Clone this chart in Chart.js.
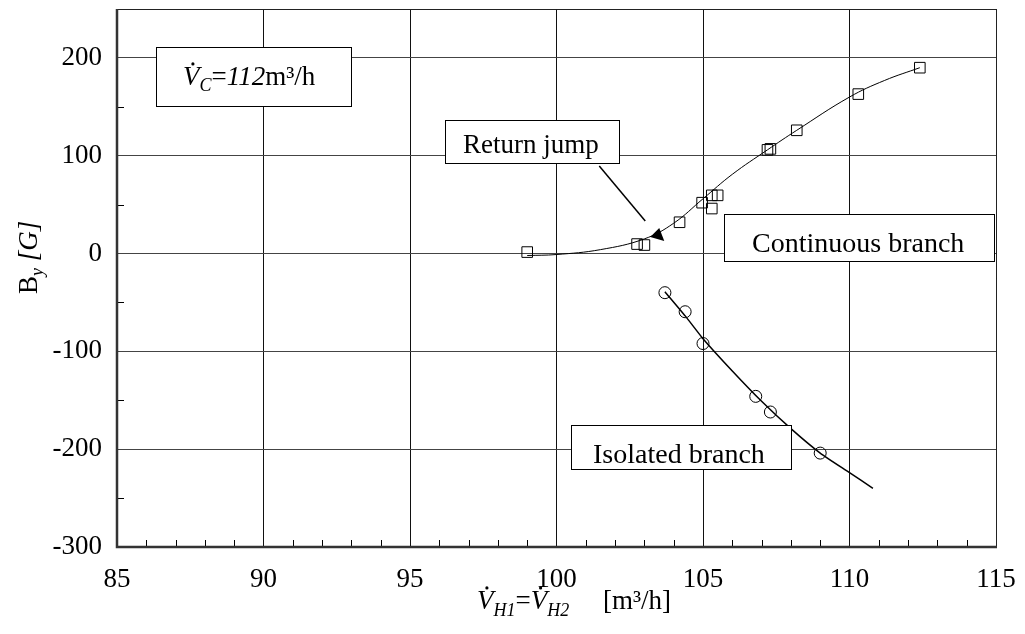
<!DOCTYPE html>
<html>
<head>
<meta charset="utf-8">
<script src="https://cdn.jsdelivr.net/npm/chart.js@4.4.0/dist/chart.umd.min.js"></script>
<style>
  html, body { margin: 0; padding: 0; background: #fff; }
</style>
</head>
<body>
<canvas id="chart" width="1025" height="634"></canvas>
<script>
// Measured points, continuous branch (squares)
const contX = [99.0, 102.75, 103.0, 104.2, 104.97, 105.3, 105.3, 105.5, 107.2, 107.3, 108.2, 110.3, 112.4];
const contY = [1.5, 9.7, 8.7, 32, 52, 59.5, 46, 59.5, 106, 107, 126, 163, 190];

// Measured points, isolated branch (circles)
const isoX = [103.7, 104.39, 105.0, 106.8, 107.3, 109.0];
const isoY = [-40, -59.5, -92, -146, -162, -204];

// Fitted curves
const contFitX = [99, 100, 101.5, 103, 104, 105, 106, 107.2, 108.2, 110, 111.2, 112.4];
const contFitY = [-2, -1, 4, 15, 31, 56, 81, 106, 126, 160, 177, 190];
const isoFitX = [103.7, 104.4, 105, 106, 107, 108, 109, 110, 110.8];
const isoFitY = [-39, -64, -87, -120, -151, -179, -204, -224, -240];

// Axis ticks
const xTicks = [85, 90, 95, 100, 105, 110, 115];
const yTicks = [-300, -200, -100, 0, 100, 200];

const SERIF = "'Liberation Serif', 'Times New Roman', serif";

function pts(xs, ys) {
    return xs.map(function (x, i) { return { x: x, y: ys[i] }; });
}

// Draw a run of text pieces with mixed styles
function drawRuns(ctx, x, y, runs) {
    let cx = x;
    runs.forEach(function (r) {
        ctx.font = (r.italic ? 'italic ' : '') + r.size + 'px ' + SERIF;
        const start = cx;
        ctx.fillText(r.t, cx, y + (r.dy || 0));
        const w = ctx.measureText(r.t).width;
        if (r.dot) {
            ctx.beginPath();
            ctx.arc(start + w * 0.6, y - r.size * 0.78, 1.6, 0, Math.PI * 2);
            ctx.fill();
        }
        cx += w;
    });
    return cx - x;
}

function labelBox(ctx, x1, y1, x2, y2) {
    ctx.fillStyle = '#fff';
    ctx.fillRect(x1, y1, x2 - x1, y2 - y1);
    ctx.strokeStyle = '#000';
    ctx.lineWidth = 1;
    ctx.strokeRect(x1 + 0.5, y1 + 0.5, x2 - x1, y2 - y1);
    ctx.fillStyle = '#000';
}

// no automatic label padding, the plot area is set by the layout padding
function noPad(s) {
    s.paddingTop = 0;
    s.paddingBottom = 0;
    s.paddingLeft = 0;
    s.paddingRight = 0;
}

const decor = {
    id: 'decor',
    beforeDatasetsDraw: function (chart) {
        const ctx = chart.ctx;
        const a = chart.chartArea;
        const xs = chart.scales.x;
        const ys = chart.scales.y;
        ctx.save();
        // minor ticks on x
        ctx.strokeStyle = '#000';
        ctx.lineWidth = 1;
        for (let v = 86; v < 115; v++) {
            if (v % 5 === 0) continue;
            const px = Math.round(xs.getPixelForValue(v)) + 0.5;
            ctx.beginPath();
            ctx.moveTo(px, a.bottom);
            ctx.lineTo(px, a.bottom - 7);
            ctx.stroke();
        }
        // minor ticks on y
        for (let v = -250; v < 250; v += 100) {
            const py = Math.round(ys.getPixelForValue(v)) + 0.5;
            ctx.beginPath();
            ctx.moveTo(a.left, py);
            ctx.lineTo(a.left + 7, py);
            ctx.stroke();
        }
        // frame
        ctx.strokeStyle = '#222';
        ctx.lineWidth = 1;
        ctx.beginPath();
        ctx.moveTo(a.left, a.top + 0.5);
        ctx.lineTo(a.right + 0.5, a.top + 0.5);
        ctx.lineTo(a.right + 0.5, a.bottom);
        ctx.stroke();
        ctx.strokeStyle = '#333';
        ctx.lineWidth = 2.5;
        ctx.beginPath();
        ctx.moveTo(a.left, a.top);
        ctx.lineTo(a.left, a.bottom);
        ctx.lineTo(a.right + 1, a.bottom);
        ctx.stroke();
        ctx.restore();
    },
    afterDatasetsDraw: function (chart) {
        const ctx = chart.ctx;
        const xs = chart.scales.x;
        const ys = chart.scales.y;
        ctx.save();
        ctx.textBaseline = 'alphabetic';
        ctx.textAlign = 'left';

        // flow rate box
        labelBox(ctx, 156, 47, 351, 106);
        drawRuns(ctx, 183, 85, [
            { t: 'V', italic: true, size: 27, dot: true },
            { t: 'C', italic: true, size: 18, dy: 6 },
            { t: '=', size: 27 },
            { t: '112', italic: true, size: 27 },
            { t: 'm³/h', size: 27 }
        ]);

        // return jump
        labelBox(ctx, 445, 120, 619, 163);
        ctx.font = '27px ' + SERIF;
        ctx.fillText('Return jump', 463, 153);
        const tx = xs.getPixelForValue(103.2);
        const ty = ys.getPixelForValue(17);
        ctx.strokeStyle = '#000';
        ctx.lineWidth = 1.5;
        ctx.beginPath();
        ctx.moveTo(tx - 51, ty - 71);
        ctx.lineTo(tx - 5, ty - 16);
        ctx.stroke();
        ctx.beginPath();
        ctx.moveTo(tx, ty);
        ctx.lineTo(tx + 9, ty - 9);
        ctx.lineTo(tx + 14, ty + 4);
        ctx.closePath();
        ctx.fill();

        // branch labels
        labelBox(ctx, 724, 214, 994, 261);
        ctx.font = '28px ' + SERIF;
        ctx.fillText('Continuous branch', 752, 252);

        labelBox(ctx, 571, 425, 791, 469);
        ctx.font = '28px ' + SERIF;
        ctx.fillText('Isolated branch', 593, 463);

        // x axis title
        drawRuns(ctx, 477, 609, [
            { t: 'V', italic: true, size: 27, dot: true },
            { t: 'H1', italic: true, size: 18, dy: 7 },
            { t: '=', size: 27 },
            { t: 'V', italic: true, size: 27, dot: true },
            { t: 'H2', italic: true, size: 18, dy: 7 },
            { t: '     [m³/h]', size: 27 }
        ]);

        // y axis title
        ctx.translate(37, 294);
        ctx.rotate(-Math.PI / 2);
        drawRuns(ctx, 0, 0, [
            { t: 'B', size: 27 },
            { t: 'y', italic: true, size: 18, dy: 6 },
            { t: ' [G]', italic: true, size: 27 }
        ]);
        ctx.restore();
    }
};

const ctx = document.getElementById('chart').getContext('2d');
new Chart(ctx, {
    type: 'scatter',
    data: {
        datasets: [{
            label: 'Continuous fit',
            data: pts(contFitX, contFitY),
            showLine: true,
            pointRadius: 0,
            borderColor: '#000',
            borderWidth: 1,
            tension: 0.4
        }, {
            label: 'Isolated fit',
            data: pts(isoFitX, isoFitY),
            showLine: true,
            pointRadius: 0,
            borderColor: '#000',
            borderWidth: 1.5,
            tension: 0.2
        }, {
            label: 'Continuous branch',
            data: pts(contX, contY),
            pointStyle: 'rect',
            pointRadius: 7.5,
            borderColor: '#000',
            borderWidth: 1,
            backgroundColor: 'rgba(0,0,0,0)'
        }, {
            label: 'Isolated branch',
            data: pts(isoX, isoY),
            pointStyle: 'circle',
            pointRadius: 6,
            borderColor: '#000',
            borderWidth: 1,
            backgroundColor: 'rgba(0,0,0,0)'
        }]
    },
    options: {
        responsive: false,
        animation: false,
        devicePixelRatio: 1,
        layout: { padding: { top: 9, right: 29, left: 0, bottom: 0 } },
        plugins: {
            legend: { display: false },
            tooltip: { enabled: false }
        },
        scales: {
            x: {
                type: 'linear',
                min: 85,
                max: 115,
                afterBuildTicks: function (s) { s.ticks = xTicks.map(function (v) { return { value: v }; }); },
                afterFit: function (s) { s.height = 87; noPad(s); },
                ticks: {
                    font: { family: SERIF, size: 27 },
                    color: '#000',
                    padding: 17,
                    maxRotation: 0
                },
                grid: { color: '#111', lineWidth: 1, drawTicks: false },
                border: { display: false }
            },
            y: {
                type: 'linear',
                min: -300,
                max: 250,
                afterBuildTicks: function (s) { s.ticks = yTicks.map(function (v) { return { value: v }; }); },
                afterFit: function (s) { s.width = 117; noPad(s); },
                ticks: {
                    font: { family: SERIF, size: 27 },
                    color: '#000',
                    padding: 15
                },
                grid: { color: '#444', lineWidth: 1, drawTicks: false },
                border: { display: false }
            }
        }
    },
    plugins: [decor]
});
</script>
</body>
</html>
